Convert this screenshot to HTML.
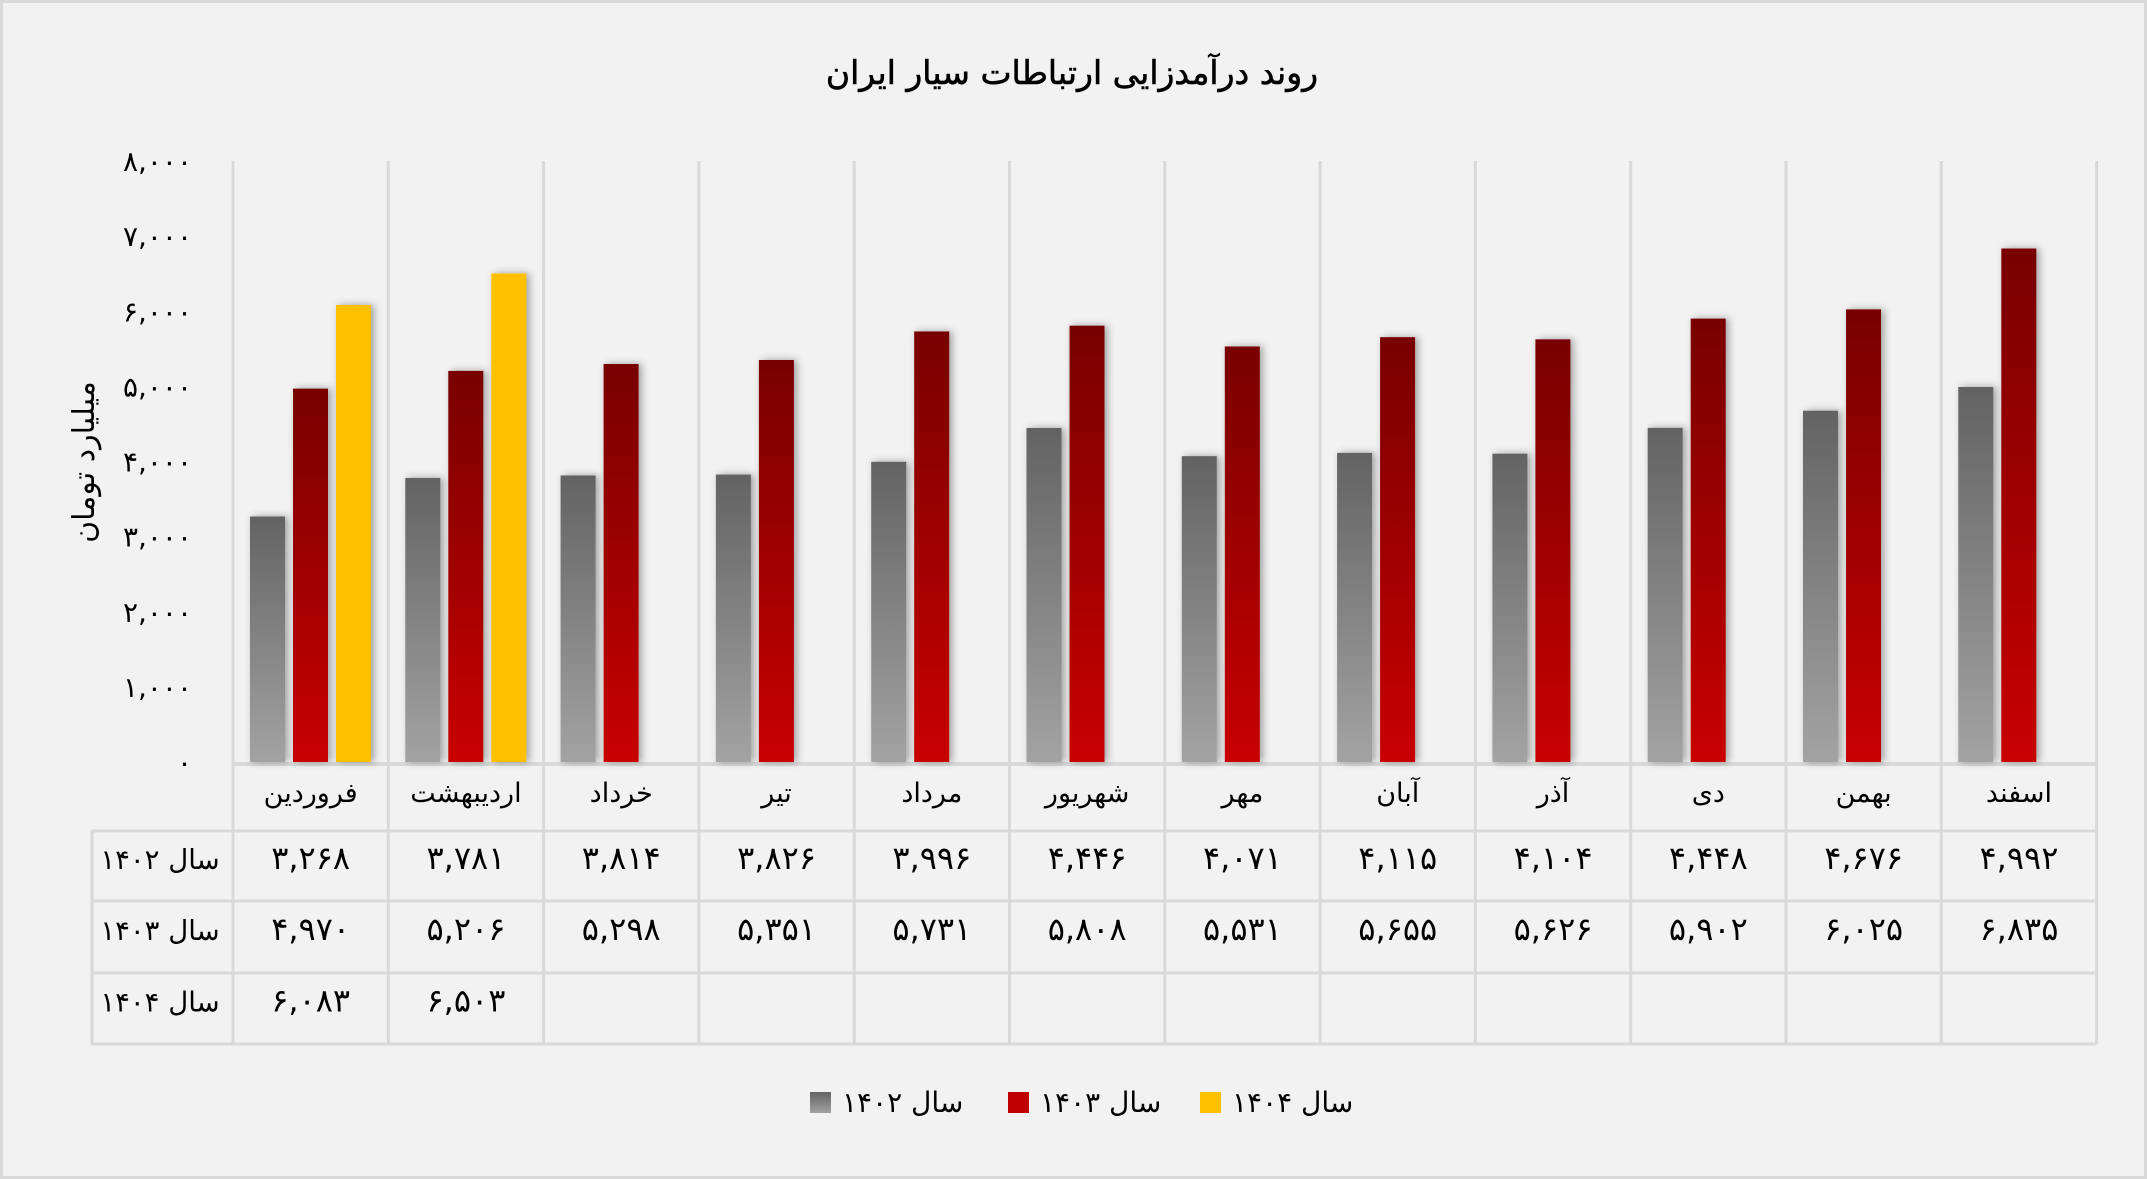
<!DOCTYPE html>
<html><head><meta charset="utf-8">
<style>
html,body{margin:0;padding:0;background:#f2f2f2;}
svg{display:block;font-family:"DejaVu Sans",sans-serif;}
</style></head>
<body>
<svg id="chart" width="2147" height="1179" viewBox="0 0 2147 1179" xmlns="http://www.w3.org/2000/svg">
<defs>
<linearGradient id="gGray" x1="0" y1="0" x2="0" y2="1"><stop offset="0" stop-color="#636363"/><stop offset="1" stop-color="#a3a3a3"/></linearGradient>
<linearGradient id="gRed" x1="0" y1="0" x2="0" y2="1"><stop offset="0" stop-color="#780000"/><stop offset="1" stop-color="#c80000"/></linearGradient>
<filter id="sh" x="-50%" y="-10%" width="200%" height="120%"><feDropShadow dx="3" dy="0" stdDeviation="4" flood-color="#000" flood-opacity="0.35"/></filter>
</defs>
<rect x="1.5" y="1.5" width="2144" height="1176" fill="#f2f2f2" stroke="#d9d9d9" stroke-width="3"/>
<text x="1072" y="84" text-anchor="middle" font-size="33" fill="#000" stroke="#000" stroke-width="0.6" direction="rtl">روند درآمدزایی ارتباطات سیار ایران</text>
<text transform="translate(94,462) rotate(-90)" text-anchor="middle" font-size="30" fill="#000" direction="rtl">میلیارد تومان</text>
<g id="grid"></g><g id="bars"></g><g id="table"></g><g id="legend"></g>
</svg>
<script>
const categories = ["فروردین","اردیبهشت","خرداد","تیر","مرداد","شهریور","مهر","آبان","آذر","دی","بهمن","اسفند"];
const series1402 = [3268,3781,3814,3826,3996,4446,4071,4115,4104,4448,4676,4992];
const series1403 = [4970,5206,5298,5351,5731,5808,5531,5655,5626,5902,6025,6835];
const series1404 = [6083,6503,null,null,null,null,null,null,null,null,null,null];
const seriesNames = ["سال ۱۴۰۲","سال ۱۴۰۳","سال ۱۴۰۴"];
const yTicks = [0,1000,2000,3000,4000,5000,6000,7000,8000];

const NS="http://www.w3.org/2000/svg";
const X0=233, CW=155.3, Y0=762, YTOP=161, YMAX=8000;
const yScale=v=>Y0-(v/YMAX)*(Y0-YTOP);
const xCat=i=>X0+i*CW;
const fa=s=>String(s).replace(/[0-9]/g,d=>"۰۱۲۳۴۵۶۷۸۹"[d]);
const fmt=v=>fa(v.toString().replace(/\B(?=(\d{3})+(?!\d))/g,","));
function mk(tag,attrs,parent){const e=document.createElementNS(NS,tag);for(const k in attrs)e.setAttribute(k,attrs[k]);parent.appendChild(e);return e;}
const grid=document.getElementById('grid'),bars=document.getElementById('bars'),table=document.getElementById('table'),legend=document.getElementById('legend');
const LC="#d9d9d9";
const nC=categories.length;
const XEND=xCat(nC);
const rowLines=[831,901,973,1044];

yTicks.forEach(t=>{
  const el=mk('text',{x:192,y:yScale(t)+10,'text-anchor':'end','font-size':28,fill:'#000'},grid);
  
  
  el.textContent=fmt(t);
});
for(let i=0;i<=nC;i++){
  const l=mk('line',{x1:xCat(i),x2:xCat(i),y1:YTOP,y2:1044,stroke:LC,'stroke-width':3},grid);
  
  
}
const ax=mk('line',{x1:X0,x2:XEND,y1:764,y2:764,stroke:LC,'stroke-width':4},grid);


rowLines.forEach(y=>{
  const l=mk('line',{x1:91,x2:XEND,y1:y,y2:y,stroke:LC,'stroke-width':3},table);
  
  
});
const lv=mk('line',{x1:92,x2:92,y1:831,y2:1044,stroke:LC,'stroke-width':3},table);



const allSeries=[series1402,series1403,series1404];
const fills=["url(#gGray)","url(#gRed)","#ffc000"];
const BW=35, GAP=8, OFF=17;
allSeries.forEach((s,si)=>{
  s.forEach((v,i)=>{
    if(v==null)return;
    const x=xCat(i)+OFF+si*(BW+GAP);
    const r=mk('rect',{x:x,y:yScale(v),width:BW,height:Y0-yScale(v),fill:fills[si],filter:'url(#sh)'},bars);
    
    
  });
});
categories.forEach((c,i)=>{
  const t=mk('text',{x:xCat(i)+CW/2,y:802,'text-anchor':'middle','font-size':27,fill:'#000',direction:'rtl'},table);
  
  
  t.textContent=c;
});
allSeries.forEach((s,si)=>{
  const cy=(rowLines[si]+rowLines[si+1])/2;
  const lab=mk('text',{x:160,y:cy+3,'text-anchor':'middle','font-size':27.5,fill:'#000',direction:'rtl'},table);
  
  
  lab.textContent=seriesNames[si];
  s.forEach((v,i)=>{
    if(v==null)return;
    const t=mk('text',{x:xCat(i)+CW/2,y:cy+3,'text-anchor':'middle','font-size':32,fill:'#000'},table);
    
    
    t.textContent=fmt(v);
  });
});
const legendX=[810,1008,1200];
const legendFill=["url(#gGray)","#c00000","#ffc000"];
seriesNames.forEach((n,i)=>{
  const g=mk('g',{},legend);
  
  
  mk('rect',{x:legendX[i],y:1092,width:21,height:21,fill:legendFill[i]},g);
  const t=mk('text',{x:legendX[i]+32,y:1112,'text-anchor':'start','font-size':28,fill:'#000'},g);
  t.textContent=n;
});
</script>
</body></html>
